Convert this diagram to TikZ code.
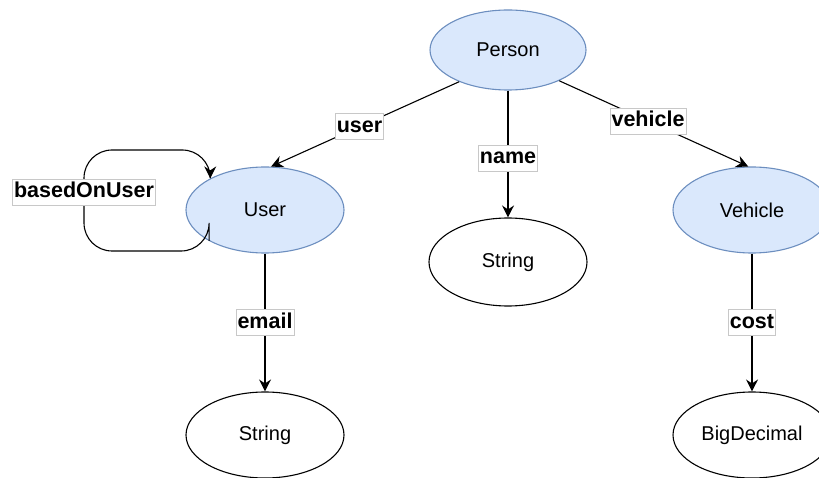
\documentclass[tikz,border=0pt]{standalone}
\usepackage{fontspec}
\setmainfont{Liberation Sans}
\usetikzlibrary{shapes.geometric,arrows.meta}
\definecolor{cfill}{HTML}{DAE8FC}
\definecolor{cstroke}{HTML}{6C8EBF}
\definecolor{lblborder}{HTML}{C8C8C8}
\begin{document}
\begin{tikzpicture}[x=1pt,y=-1pt,
  ent/.style={ellipse,draw=cstroke,fill=cfill,line width=1.1pt,minimum width=158pt,minimum height=86pt,inner sep=0pt,font=\fontsize{20}{24}\selectfont},
  typ/.style={ellipse,draw=black,fill=white,line width=1.1pt,minimum width=158pt,minimum height=86pt,inner sep=0pt,font=\fontsize{20}{24}\selectfont},
  lbl/.style={sharp corners,draw=lblborder,line width=0.6pt,fill=white,inner sep=1.6pt,minimum height=26pt,text height=15pt,text depth=4pt,font=\fontsize{21.5}{24}\selectfont\bfseries},
  rel/.style={draw=black,line width=1.1pt,-{Stealth[length=12pt,width=12pt,inset=4pt]}}
]
\clip (0,0) rectangle (819,478);
\useasboundingbox (0,0) rectangle (819,478);

\node[ent,minimum width=156pt,minimum height=80pt] (Person) at (508,50) {Person};
\node[ent] (User) at (265,210) {User};
\node[ent] (Vehicle) at (752,210) {Vehicle};
\node[typ,minimum height=88pt] (String1) at (508,262) {String};
\node[typ] (String2) at (265,435) {String};
\node[typ] (BigDecimal) at (752,435) {BigDecimal};

\draw[rel] (Person.213) -- node[lbl,pos=0.53] (luser) {user} (User.82);
\draw[rel] (Person.south) -- node[lbl,pos=0.53] (lname) {name} (String1.north);
\draw[rel] (Person.329) -- node[lbl,pos=0.47] (lvehicle) {vehicle} (Vehicle.95);
\draw[rel] (User.south) -- node[lbl,pos=0.5] (lemail) {email} (String2.north);
\draw[rel] (Vehicle.south) -- node[lbl,pos=0.5] (lcost) {cost} (BigDecimal.north);

\coordinate (lb) at (84,251);
\coordinate (lt) at (84,150);
\draw[rel,rounded corners=28pt] (User.209) |- (lb) -- node[lbl,pos=0.58] (lbased) {basedOnUser} (lt) -| (User.150);
\end{tikzpicture}
\end{document}
